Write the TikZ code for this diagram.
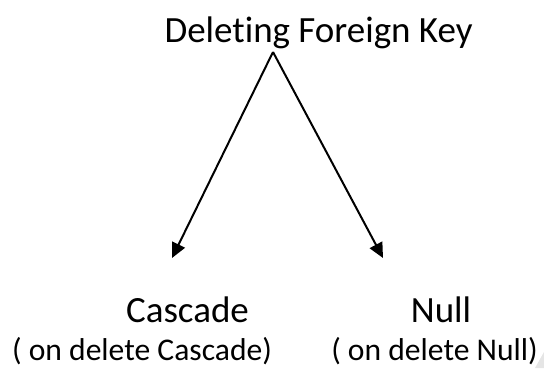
\documentclass[tikz,border=0pt]{standalone}
\usepackage{fontspec}
\setmainfont{Carlito}[Ligatures=NoCommon]
\usetikzlibrary{arrows.meta}
\begin{document}
\begin{tikzpicture}[x=1pt,y=1pt,
  label/.style={inner sep=0pt,anchor=base,font=\fontsize{37}{40}\selectfont},
  sublabel/.style={inner sep=0pt,anchor=base,font=\fontsize{31.6}{34}\selectfont},
  link/.style={line width=2pt,-{Triangle[length=15pt,width=14pt]}}]
  \useasboundingbox (0,0) rectangle (544,368);
  % faint corner shading
  \fill[gray!20] (535,0) -- (544,0) -- (544,16) -- cycle;
  % heading and the two outcomes
  \node[label] (head) at (318.5,326) {Deleting Foreign Key};
  \coordinate (apex) at (273,316);
  \coordinate (tipL) at (172,110);
  \coordinate (tipR) at (383,110);
  \node[label] (casc) at (187.5,46) {Cascade};
  \node[sublabel] (cascnote) at (142,7.5) {( on delete Cascade)};
  \node[label] (null) at (441,46) {Null};
  \node[sublabel] (nullnote) at (434.5,7.5) {( on delete Null)};
  % branches
  \draw[link] (apex) -- (tipL);
  \draw[link] (apex) -- (tipR);
\end{tikzpicture}
\end{document}
